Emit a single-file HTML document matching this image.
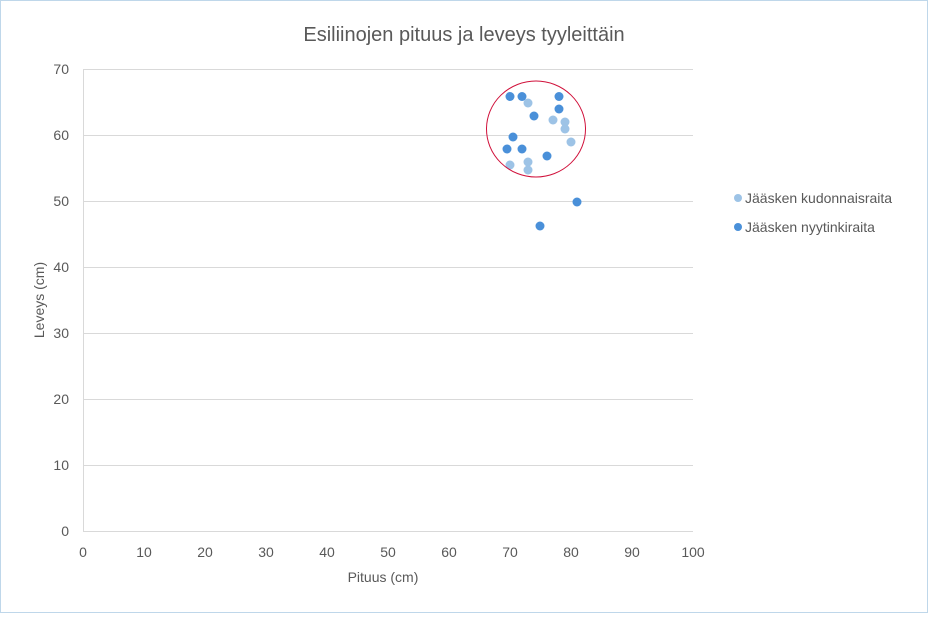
<!DOCTYPE html>
<html><head><style>body{margin:0;background:#fff}</style></head><body>
<svg width="929" height="614" xmlns="http://www.w3.org/2000/svg" font-family="Liberation Sans, sans-serif">
<rect x="0.5" y="0.5" width="927" height="612" fill="#fff" stroke="#bfd7ea"/>
<text x="464" y="41" text-anchor="middle" font-size="20" fill="#595959">Esiliinojen pituus ja leveys tyyleittäin</text>
<g stroke="#d9d9d9" stroke-width="1">
<line x1="83" y1="69.5" x2="693" y2="69.5"/><line x1="83" y1="135.5" x2="693" y2="135.5"/><line x1="83" y1="201.5" x2="693" y2="201.5"/><line x1="83" y1="267.5" x2="693" y2="267.5"/><line x1="83" y1="333.5" x2="693" y2="333.5"/><line x1="83" y1="399.5" x2="693" y2="399.5"/><line x1="83" y1="465.5" x2="693" y2="465.5"/><line x1="83" y1="531.5" x2="693" y2="531.5"/><line x1="83.5" y1="69" x2="83.5" y2="531"/>
</g>
<g font-size="14" fill="#595959" text-anchor="end">
<text x="69" y="74">70</text><text x="69" y="140">60</text><text x="69" y="206">50</text><text x="69" y="272">40</text><text x="69" y="338">30</text><text x="69" y="404">20</text><text x="69" y="470">10</text><text x="69" y="536">0</text>
</g>
<g font-size="14" fill="#595959" text-anchor="middle">
<text x="83" y="557">0</text><text x="144" y="557">10</text><text x="205" y="557">20</text><text x="266" y="557">30</text><text x="327" y="557">40</text><text x="388" y="557">50</text><text x="449" y="557">60</text><text x="510" y="557">70</text><text x="571" y="557">80</text><text x="632" y="557">90</text><text x="693" y="557">100</text>
</g>
<text x="383" y="582" text-anchor="middle" font-size="14" fill="#595959">Pituus (cm)</text>
<text transform="translate(44,300) rotate(-90)" text-anchor="middle" font-size="14" fill="#595959">Leveys (cm)</text>
<g fill="#9dc3e6">
<circle cx="528" cy="103" r="4.5"/><circle cx="553" cy="120" r="4.5"/><circle cx="565" cy="122" r="4.5"/><circle cx="565" cy="129" r="4.5"/><circle cx="571" cy="142" r="4.5"/><circle cx="510" cy="165" r="4.5"/><circle cx="528" cy="162" r="4.5"/><circle cx="528" cy="170" r="4.5"/>
</g>
<g fill="#4a90d9">
<circle cx="510" cy="96.5" r="4.5"/><circle cx="522" cy="96.5" r="4.5"/><circle cx="559" cy="96.5" r="4.5"/><circle cx="559" cy="109" r="4.5"/><circle cx="534" cy="116" r="4.5"/><circle cx="513" cy="137" r="4.5"/><circle cx="507" cy="149" r="4.5"/><circle cx="522" cy="149" r="4.5"/><circle cx="547" cy="156" r="4.5"/><circle cx="577" cy="202" r="4.5"/><circle cx="540" cy="226" r="4.5"/>
</g>
<ellipse cx="536" cy="129" rx="49.5" ry="48" fill="none" stroke="#d0103a" stroke-width="1"/>
<circle cx="738" cy="198" r="4" fill="#9dc3e6"/><text x="745" y="203" font-size="14" fill="#595959">Jääsken kudonnaisraita</text>
<circle cx="738" cy="227" r="4" fill="#4a90d9"/><text x="745" y="232" font-size="14" fill="#595959">Jääsken nyytinkiraita</text>
</svg>
</body></html>
